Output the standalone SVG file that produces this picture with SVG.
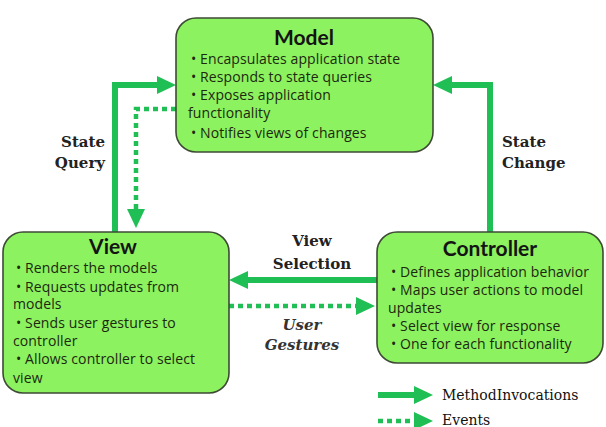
<svg xmlns="http://www.w3.org/2000/svg" width="606" height="427" viewBox="0 0 606 427">
<style>
.box{fill:#8cf25f;stroke:#3e4a36;stroke-width:1.6}
.title{font-family:Lato,"Open Sans",sans-serif;font-weight:bold;font-size:21px;fill:#141414;text-anchor:middle}
.item{font-family:"Open Sans",Lato,sans-serif;font-size:14px;fill:#1c2810;letter-spacing:0.1px}
.sol{fill:none;stroke:#1fbf55;stroke-width:6}
.dot{fill:none;stroke:#1fbf55;stroke-width:4.5;stroke-dasharray:5 4}
.lbl{font-family:"DejaVu Serif",serif;font-weight:bold;font-size:15px;fill:#222}
.lbli{font-family:"DejaVu Serif",serif;font-weight:bold;font-style:italic;font-size:15px;fill:#333}
.leg{font-family:"DejaVu Serif",serif;font-size:14px;fill:#111}
</style>
<defs>
<marker id="ah" markerUnits="userSpaceOnUse" markerWidth="19" markerHeight="20" viewBox="0 -10 19 20" refX="1" refY="0" orient="auto">
<path d="M0,-9 L19,0 L0,9 z" fill="#1fbf55"/>
</marker>
</defs>
<rect width="606" height="427" fill="#fff"/>
<g id="connectors">
<path class="sol" d="M115,232 V85 H158" marker-end="url(#ah)"/>
<path class="dot" d="M176,109 H136 V210" marker-end="url(#ah)"/>
<path class="sol" d="M490,232 V85 H451" marker-end="url(#ah)"/>
<path class="sol" d="M377,280 H247" marker-end="url(#ah)"/>
<path class="dot" d="M229,306 H357" marker-end="url(#ah)"/>
<text class="lbl" x="105" y="147" text-anchor="end">State</text>
<text class="lbl" x="105" y="168" text-anchor="end">Query</text>
<text class="lbl" x="502" y="147">State</text>
<text class="lbl" x="502" y="168">Change</text>
<text class="lbl" x="312" y="246" text-anchor="middle">View</text>
<text class="lbl" x="312" y="269" text-anchor="middle">Selection</text>
<text class="lbli" x="302" y="330" text-anchor="middle">User</text>
<text class="lbli" x="302" y="350" text-anchor="middle">Gestures</text>
</g>
<g id="model">
<rect class="box" x="176" y="18" width="257" height="134" rx="20"/>
<text class="title" x="304" y="45">Model</text>
<text class="item" x="191" y="64">• Encapsulates application state</text>
<text class="item" x="191" y="82">• Responds to state queries</text>
<text class="item" x="191" y="100">• Exposes application</text>
<text class="item" x="188" y="118">functionality</text>
<text class="item" x="191" y="138">• Notifies views of changes</text>
</g>
<g id="view">
<rect class="box" x="3" y="232" width="226" height="161" rx="20"/>
<text class="title" x="113" y="254">View</text>
<text class="item" x="16" y="273">• Renders the models</text>
<text class="item" x="16" y="292">• Requests updates from</text>
<text class="item" x="13" y="309">models</text>
<text class="item" x="16" y="328">• Sends user gestures to</text>
<text class="item" x="13" y="346">controller</text>
<text class="item" x="16" y="364">• Allows controller to select</text>
<text class="item" x="13" y="383">view</text>
</g>
<g id="controller">
<rect class="box" x="377" y="232" width="226" height="131" rx="20"/>
<text class="title" x="490" y="256">Controller</text>
<text class="item" x="391" y="277">• Defines application behavior</text>
<text class="item" x="391" y="295">• Maps user actions to model</text>
<text class="item" x="388" y="313">updates</text>
<text class="item" x="391" y="331">• Select view for response</text>
<text class="item" x="391" y="349">• One for each functionality</text>
</g>
<g id="legend">
<path class="sol" d="M378,395 H415" marker-end="url(#ah)"/>
<path class="dot" d="M378,421 H415" marker-end="url(#ah)"/>
<text class="leg" x="442" y="400">MethodInvocations</text>
<text class="leg" x="442" y="425">Events</text>
</g>
</svg>
